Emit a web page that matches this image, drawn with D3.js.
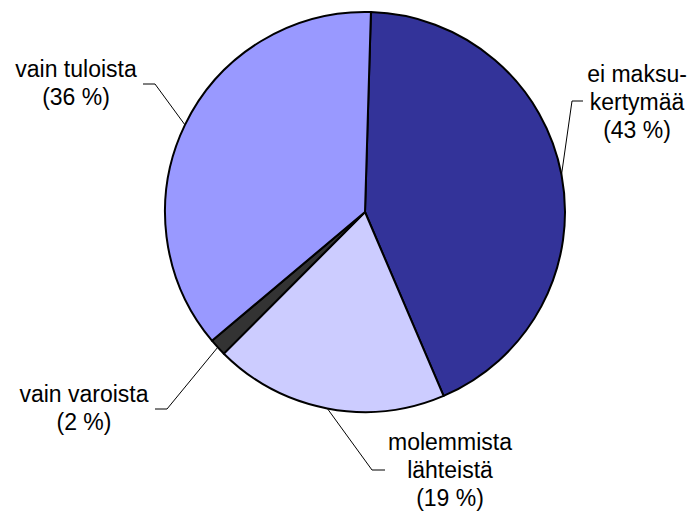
<!DOCTYPE html>
<html>
<head>
<meta charset="utf-8">
<script src="https://cdn.jsdelivr.net/npm/d3@7"></script>
<style>
  body { margin: 0; background: #fff; }
  svg text { font-family: "Liberation Sans", Arial, sans-serif; font-size: 23px; fill: #000; }
</style>
</head>
<body>
<div id="chart"></div>
<script>
// slice data, clockwise from 12 o'clock
var categories = ["ei maksukertymää", "molemmista lähteistä", "vain varoista", "vain tuloista"];
var values = [43.1, 18.9, 1.4, 36.6];
var percentLabels = ["(43 %)", "(19 %)", "(2 %)", "(36 %)"];
var labelLines = [["ei maksu-", "kertymää"], ["molemmista", "lähteistä"], ["vain varoista"], ["vain tuloista"]];
var colors = ["#333399", "#CCCCFF", "#333333", "#9999FF"];

var width = 693, height = 516;
var cx = 365, cy = 212, radius = 200;

// where each label block sits and where its leader line bends
var labelLayout = [
  {x: 637, y: 82, elbow: [572, 101], end: [583, 101]},
  {x: 450, y: 450, elbow: [372, 470], end: [385, 470]},
  {x: 84, y: 402, elbow: [167, 409], end: [155, 409]},
  {x: 76, y: 77, elbow: [155, 84], end: [143, 84]}
];

var svg = d3.select("#chart").append("svg")
    .attr("width", width)
    .attr("height", height);

var g = svg.append("g")
    .attr("transform", "translate(" + cx + "," + cy + ")");

var startOffset = 1.7 * Math.PI / 180;

var pie = d3.pie()
    .sort(null)
    .startAngle(startOffset)
    .endAngle(startOffset + 2 * Math.PI)
    .value(function(d) { return d; });

var arc = d3.arc().innerRadius(0).outerRadius(radius);

var arcs = pie(values);

g.selectAll("path.slice")
    .data(arcs)
  .enter().append("path")
    .attr("class", "slice")
    .attr("d", arc)
    .attr("fill", function(d, i) { return colors[i]; })
    .attr("stroke", "#000")
    .attr("stroke-width", 2)
    .attr("stroke-linejoin", "round");

// leader lines
arcs.forEach(function(d, i) {
  var mid = (d.startAngle + d.endAngle) / 2;
  var px = cx + radius * Math.sin(mid);
  var py = cy - radius * Math.cos(mid);
  var L = labelLayout[i];
  svg.append("polyline")
      .attr("points", [[px, py], L.elbow, L.end].map(function(p) { return p.join(","); }).join(" "))
      .attr("fill", "none")
      .attr("stroke", "#000")
      .attr("stroke-width", 1);
});

// labels
labelLayout.forEach(function(L, i) {
  var lines = labelLines[i].concat([percentLabels[i]]);
  var t = svg.append("text")
      .attr("text-anchor", "middle")
      .attr("x", L.x)
      .attr("y", L.y);
  lines.forEach(function(s, k) {
    t.append("tspan")
        .attr("x", L.x)
        .attr("dy", k === 0 ? 0 : 28)
        .text(s);
  });
});
</script>
</body>
</html>
